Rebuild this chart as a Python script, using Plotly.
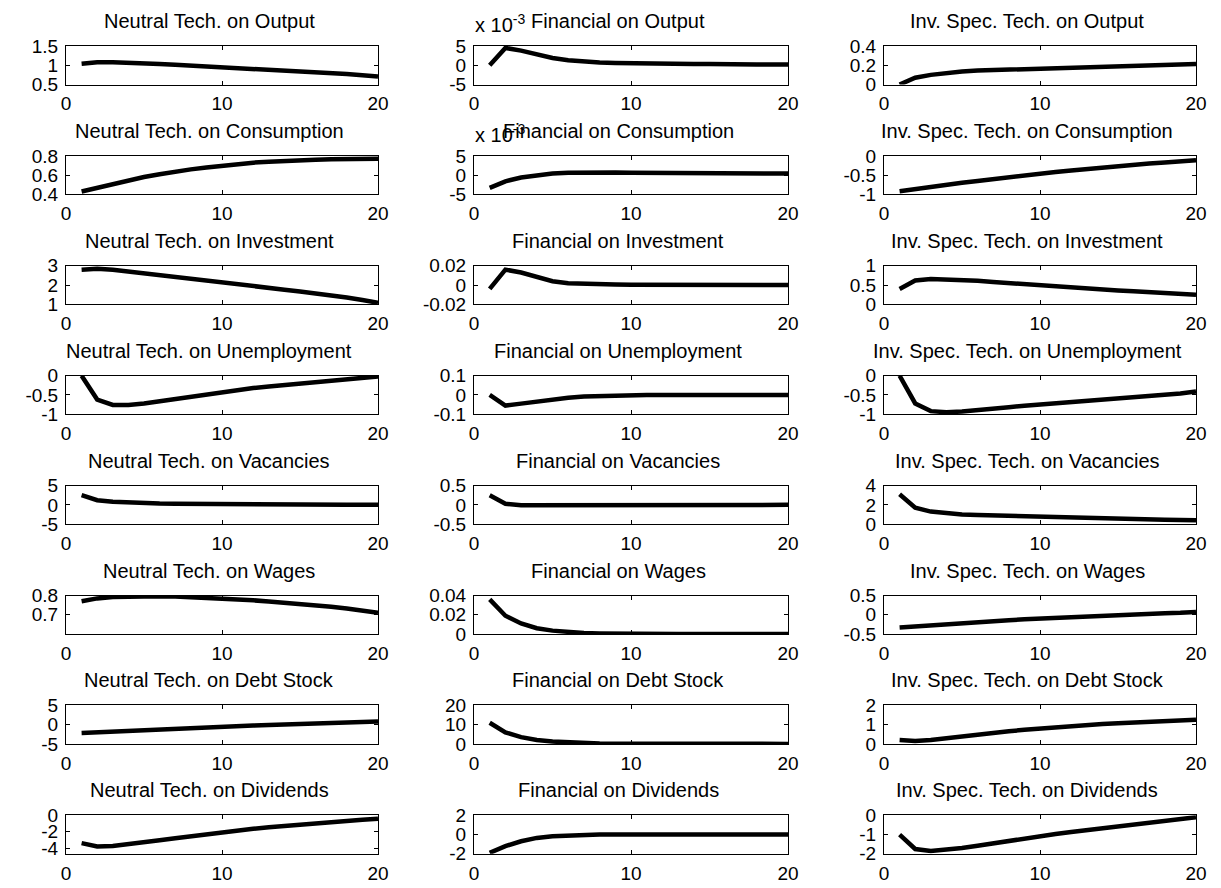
import plotly.graph_objects as go

W, H = 1221, 888
t = list(range(1, 21))

shocks = ["Neutral Tech.", "Financial", "Inv. Spec. Tech."]
variables = ["Output", "Consumption", "Investment", "Unemployment",
             "Vacancies", "Wages", "Debt Stock", "Dividends"]

# ---- series (rows = variables, columns = shocks) ----
neutral_output = [1.04, 1.08, 1.08, 1.07, 1.05, 1.03, 1.01, 0.99, 0.96, 0.94,
                  0.92, 0.90, 0.88, 0.86, 0.84, 0.82, 0.80, 0.77, 0.74, 0.71]
financial_output = [0.0, 0.0045, 0.0038, 0.0028, 0.0019, 0.0013, 0.0009, 0.0007, 0.0006, 0.0005,
                    0.0004, 0.0004, 0.0003, 0.0003, 0.0003, 0.0002, 0.0002, 0.0002, 0.0002, 0.0002]
inv_output = [0.0, 0.07, 0.10, 0.12, 0.135, 0.145, 0.15, 0.157, 0.165, 0.17,
              0.175, 0.18, 0.185, 0.19, 0.195, 0.20, 0.203, 0.207, 0.21, 0.213]

neutral_consumption = [0.43, 0.47, 0.51, 0.55, 0.58, 0.61, 0.64, 0.66, 0.68, 0.70,
                       0.715, 0.73, 0.74, 0.75, 0.755, 0.76, 0.765, 0.77, 0.77, 0.77]
financial_consumption = [-0.0033, -0.0016, -0.0006, 0.0, 0.0004, 0.0006, 0.0007, 0.0007, 0.0007, 0.0006,
                         0.0006, 0.0006, 0.0005, 0.0005, 0.0005, 0.0005, 0.0004, 0.0004, 0.0004, 0.0004]
inv_consumption = [-0.92, -0.86, -0.80, -0.75, -0.70, -0.65, -0.60, -0.55, -0.50, -0.46,
                   -0.42, -0.38, -0.34, -0.30, -0.27, -0.23, -0.20, -0.17, -0.14, -0.11]

neutral_investment = [2.80, 2.85, 2.80, 2.70, 2.60, 2.50, 2.40, 2.30, 2.21, 2.12,
                      2.03, 1.94, 1.85, 1.76, 1.67, 1.58, 1.48, 1.35, 1.22, 1.08]
financial_investment = [-0.004, 0.016, 0.013, 0.008, 0.004, 0.002, 0.0012, 0.0008, 0.0005, 0.0003,
                        0.0002, 0.0002, 0.0001, 0.0001, 0.0001, 0.0, 0.0, 0.0, 0.0, 0.0]
inv_investment = [0.40, 0.62, 0.66, 0.65, 0.63, 0.61, 0.58, 0.55, 0.52, 0.49,
                  0.47, 0.44, 0.42, 0.39, 0.36, 0.34, 0.32, 0.30, 0.28, 0.25]

neutral_unemployment = [0.0, -0.62, -0.76, -0.76, -0.72, -0.66, -0.60, -0.54, -0.48, -0.42,
                        -0.37, -0.32, -0.28, -0.24, -0.20, -0.16, -0.12, -0.09, -0.05, -0.02]
financial_unemployment = [0.0, -0.055, -0.045, -0.033, -0.022, -0.014, -0.008, -0.005, -0.003, -0.001,
                          0.0, 0.0, 0.0, 0.0, 0.0, 0.0, 0.0, 0.0, 0.0, 0.0]
inv_unemployment = [0.0, -0.72, -0.92, -0.95, -0.93, -0.90, -0.86, -0.82, -0.78, -0.75,
                    -0.71, -0.68, -0.64, -0.61, -0.58, -0.55, -0.52, -0.49, -0.46, -0.41]

neutral_vacancies = [2.5, 1.2, 0.8, 0.6, 0.45, 0.35, 0.3, 0.25, 0.2, 0.18,
                     0.15, 0.12, 0.1, 0.08, 0.06, 0.05, 0.04, 0.02, 0.01, 0.0]
financial_vacancies = [0.25, 0.03, -0.01, -0.01, -0.005, 0.0, 0.0, 0.0, 0.0, 0.0,
                       0.0, 0.0, 0.0, 0.0, 0.0, 0.0, 0.0, 0.0, 0.0, 0.0]
inv_vacancies = [3.1, 1.7, 1.3, 1.1, 1.0, 0.95, 0.9, 0.85, 0.8, 0.77,
                 0.73, 0.7, 0.66, 0.62, 0.58, 0.54, 0.5, 0.46, 0.43, 0.4]

neutral_wages = [0.77, 0.785, 0.792, 0.795, 0.796, 0.796, 0.795, 0.792, 0.789, 0.785,
                 0.78, 0.775, 0.769, 0.763, 0.757, 0.75, 0.742, 0.733, 0.722, 0.71]
financial_wages = [0.036, 0.019, 0.011, 0.006, 0.0035, 0.002, 0.001, 0.0006, 0.0003, 0.0002,
                   0.0001, 0.0, 0.0, 0.0, 0.0, 0.0, 0.0, 0.0, 0.0, 0.0]
inv_wages = [-0.33, -0.30, -0.27, -0.24, -0.21, -0.18, -0.16, -0.14, -0.12, -0.10,
             -0.08, -0.06, -0.04, -0.02, -0.01, 0.01, 0.03, 0.04, 0.05, 0.07]

neutral_debt = [-2.2, -2.0, -1.8, -1.6, -1.4, -1.2, -1.0, -0.85, -0.7, -0.55,
                -0.4, -0.25, -0.1, 0.05, 0.2, 0.3, 0.45, 0.55, 0.7, 0.8]
financial_debt = [11.0, 6.0, 3.5, 2.0, 1.2, 0.7, 0.4, 0.2, 0.1, 0.05,
                  0.0, 0.0, 0.0, 0.0, 0.0, 0.0, 0.0, 0.0, 0.0, 0.0]
inv_debt = [0.2, 0.15, 0.2, 0.3, 0.4, 0.5, 0.58, 0.66, 0.73, 0.8,
            0.87, 0.93, 0.98, 1.03, 1.07, 1.11, 1.15, 1.18, 1.21, 1.25]

neutral_dividends = [-3.4, -3.8, -3.75, -3.55, -3.3, -3.05, -2.8, -2.55, -2.3, -2.05,
                     -1.85, -1.65, -1.45, -1.28, -1.12, -0.97, -0.83, -0.7, -0.55, -0.42]
financial_dividends = [-1.9, -1.2, -0.7, -0.35, -0.18, -0.1, -0.04, 0.0, 0.0, 0.0,
                       0.0, 0.0, 0.0, 0.0, 0.0, 0.0, 0.0, 0.0, 0.0, 0.0]
inv_dividends = [-1.0, -1.75, -1.85, -1.8, -1.7, -1.58, -1.45, -1.32, -1.2, -1.08,
                 -0.97, -0.87, -0.77, -0.67, -0.57, -0.48, -0.39, -0.3, -0.2, -0.1]

series = [
    [neutral_output, financial_output, inv_output],
    [neutral_consumption, financial_consumption, inv_consumption],
    [neutral_investment, financial_investment, inv_investment],
    [neutral_unemployment, financial_unemployment, inv_unemployment],
    [neutral_vacancies, financial_vacancies, inv_vacancies],
    [neutral_wages, financial_wages, inv_wages],
    [neutral_debt, financial_debt, inv_debt],
    [neutral_dividends, financial_dividends, inv_dividends],
]

# ---- y-axis ranges and tick labels ----
y_ranges = [
    [[0.5, 1.5], [-0.005, 0.005], [0, 0.4]],
    [[0.4, 0.8], [-0.005, 0.005], [-1, 0]],
    [[1, 3], [-0.02, 0.02], [0, 1]],
    [[-1, 0], [-0.1, 0.1], [-1, 0]],
    [[-5, 5], [-0.5, 0.5], [0, 4]],
    [[0.6, 0.8], [0, 0.04], [-0.5, 0.5]],
    [[-5, 5], [0, 20], [0, 2]],
    [[-4.7, 0], [-2, 2], [-2, 0]],
]
y_tickvals = [
    [[0.5, 1, 1.5], [-0.005, 0, 0.005], [0, 0.2, 0.4]],
    [[0.4, 0.6, 0.8], [-0.005, 0, 0.005], [-1, -0.5, 0]],
    [[1, 2, 3], [-0.02, 0, 0.02], [0, 0.5, 1]],
    [[-1, -0.5, 0], [-0.1, 0, 0.1], [-1, -0.5, 0]],
    [[-5, 0, 5], [-0.5, 0, 0.5], [0, 2, 4]],
    [[0.7, 0.8], [0, 0.02, 0.04], [-0.5, 0, 0.5]],
    [[-5, 0, 5], [0, 10, 20], [0, 1, 2]],
    [[-4, -2, 0], [-2, 0, 2], [-2, -1, 0]],
]
y_ticktext = [
    [["0.5", "1", "1.5"], ["-5", "0", "5"], ["0", "0.2", "0.4"]],
    [["0.4", "0.6", "0.8"], ["-5", "0", "5"], ["-1", "-0.5", "0"]],
    [["1", "2", "3"], ["-0.02", "0", "0.02"], ["0", "0.5", "1"]],
    [["-1", "-0.5", "0"], ["-0.1", "0", "0.1"], ["-1", "-0.5", "0"]],
    [["-5", "0", "5"], ["-0.5", "0", "0.5"], ["0", "2", "4"]],
    [["0.7", "0.8"], ["0", "0.02", "0.04"], ["-0.5", "0", "0.5"]],
    [["-5", "0", "5"], ["0", "10", "20"], ["0", "1", "2"]],
    [["-4", "-2", "0"], ["-2", "0", "2"], ["-2", "-1", "0"]],
]
x_tickvals = [0, 10, 20]
x_ticktext = ["0", "10", "20"]
exponent_panels = [(0, 1), (1, 1)]  # panels scaled by x 10^-3

# ---- layout geometry (pixels) ----
col_left = [66, 474, 884]
col_right = [378, 788, 1196]
row_top0, row_pitch, box_h = 46, 109.9, 38.5

FONT = "Liberation Sans, Arial, sans-serif"
FS_TICK = 19
FS_TITLE = 20

fig = go.Figure()
annotations = []

for r in range(8):
    for c in range(3):
        k = r * 3 + c + 1
        top = row_top0 + r * row_pitch
        bot = top + box_h
        xd = [col_left[c] / W, col_right[c] / W]
        yd = [1 - bot / H, 1 - top / H]
        xa = "x" if k == 1 else f"x{k}"
        ya = "y" if k == 1 else f"y{k}"
        fig.add_trace(go.Scatter(x=t, y=series[r][c], mode="lines",
                                 line=dict(color="black", width=4.5),
                                 xaxis=xa, yaxis=ya, showlegend=False,
                                 cliponaxis=False, hoverinfo="skip"))
        common = dict(showline=True, linecolor="black", linewidth=1, mirror="ticks",
                      ticks="inside", ticklen=4, tickcolor="black", showgrid=False,
                      zeroline=False, automargin=False,
                      tickfont=dict(family=FONT, size=FS_TICK, color="black"))
        fig.layout["xaxis" if k == 1 else f"xaxis{k}"] = dict(
            domain=xd, range=[0, 20], tickvals=x_tickvals, ticktext=x_ticktext,
            anchor=ya, ticklabelstandoff=2, **common)
        fig.layout["yaxis" if k == 1 else f"yaxis{k}"] = dict(
            domain=yd, range=y_ranges[r][c], tickvals=y_tickvals[r][c],
            ticktext=y_ticktext[r][c], anchor=xa, ticklabelstandoff=3, **common)
        annotations.append(dict(
            text=f"{shocks[c]} on {variables[r]}", xref="paper", yref="paper",
            x=((col_left[c] + col_right[c]) / 2 - 13) / W, y=1 - (top - 25) / H,
            showarrow=False, font=dict(family=FONT, size=FS_TITLE, color="black"),
            xanchor="center", yanchor="middle"))
        if (r, c) in exponent_panels:
            annotations.append(dict(
                text="x 10<sup>-3</sup>", xref="paper", yref="paper",
                x=(col_left[c] - 1) / W, y=1 - (top - 22) / H,
                showarrow=False, font=dict(family=FONT, size=FS_TITLE, color="black"),
                xanchor="left", yanchor="middle"))

fig.update_layout(width=W, height=H,
                  margin=dict(l=0, r=0, t=0, b=0, pad=0, autoexpand=False),
                  paper_bgcolor="white", plot_bgcolor="white",
                  annotations=annotations)
fig.write_html("out.html", config={"displayModeBar": False},
               post_script="document.body.style.margin='0';document.body.style.overflow='hidden';")
